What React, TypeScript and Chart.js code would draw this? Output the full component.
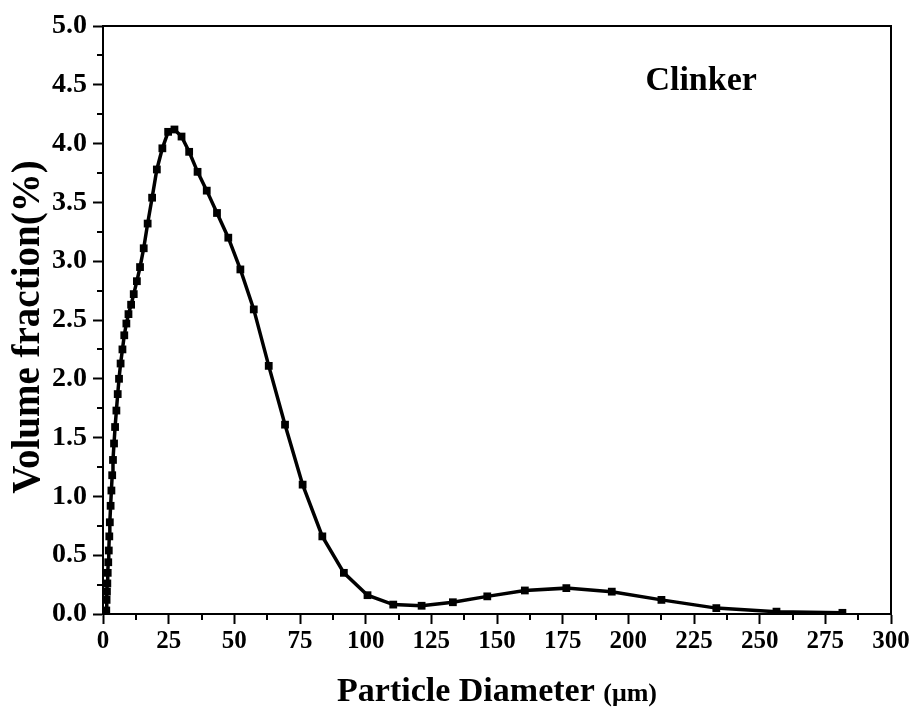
import React, { useEffect, useRef } from 'react';
import { Chart, registerables } from 'chart.js';

Chart.register(...registerables);

// Particle diameter (µm)
const diameters = [
  1.13, 1.25, 1.37, 1.5, 1.65, 1.8, 2.0, 2.2, 2.4, 2.6,
  2.9, 3.2, 3.5, 3.8, 4.2, 4.6, 5.1, 5.6, 6.1, 6.7,
  7.4, 8.1, 8.9, 9.7, 10.7, 11.7, 12.9, 14.1, 15.5, 17.0,
  18.7, 20.5, 22.6, 24.8, 27.2, 29.9, 32.8, 36.0, 39.5, 43.4,
  47.7, 52.3, 57.4, 63.1, 69.3, 76.0, 83.5, 91.7, 100.7, 110.5,
  121.3, 133.2, 146.3, 160.6, 176.4, 193.7, 212.6, 233.5, 256.4, 281.5,
];

// Volume fraction (%)
const volumeFraction = [
  0.0, 0.03, 0.12, 0.19, 0.26, 0.35, 0.44, 0.54, 0.66, 0.78,
  0.92, 1.05, 1.18, 1.31, 1.45, 1.59, 1.73, 1.87, 2.0, 2.13,
  2.25, 2.37, 2.47, 2.55, 2.63, 2.72, 2.83, 2.95, 3.11, 3.32,
  3.54, 3.78, 3.96, 4.1, 4.12, 4.06, 3.93, 3.76, 3.6, 3.41,
  3.2, 2.93, 2.59, 2.11, 1.61, 1.1, 0.66, 0.35, 0.16, 0.08,
  0.07, 0.1, 0.15, 0.2, 0.22, 0.19, 0.12, 0.05, 0.02, 0.01,
];

const seriesLabel = 'Clinker';
const xTitle = 'Particle Diameter ';
const xUnit = '(\u03bcm)';
const yTitle = 'Volume fraction(%)';

const xMin = 0;
const xMax = 300;
const xStep = 25;
const yMin = 0;
const yMax = 5;
const yStep = 0.5;

const FONT = '"Liberation Serif", "Times New Roman", serif';

const framePlugin = {
  id: 'frame',
  afterDraw(chart: any) {
    const { ctx, chartArea: a, scales } = chart;
    const xs = scales.x;
    const ys = scales.y;
    ctx.save();
    ctx.strokeStyle = '#000';
    ctx.lineWidth = 2;
    ctx.strokeRect(a.left, a.top, a.right - a.left, a.bottom - a.top);
    // minor ticks
    ctx.beginPath();
    for (let v = xMin + xStep / 2; v < xMax; v += xStep) {
      const px = Math.round(xs.getPixelForValue(v));
      ctx.moveTo(px, a.bottom);
      ctx.lineTo(px, a.bottom + 6);
    }
    for (let v = yMin + yStep / 2; v < yMax; v += yStep) {
      const py = Math.round(ys.getPixelForValue(v));
      ctx.moveTo(a.left, py);
      ctx.lineTo(a.left - 6, py);
    }
    ctx.stroke();

    ctx.fillStyle = '#000';
    // x title
    ctx.textBaseline = 'alphabetic';
    ctx.font = `bold 34px ${FONT}`;
    const w1 = ctx.measureText(xTitle).width;
    ctx.font = `bold 26px ${FONT}`;
    const w2 = ctx.measureText(xUnit).width;
    const cx = (a.left + a.right) / 2;
    const sx = cx - (w1 + w2) / 2;
    ctx.textAlign = 'left';
    ctx.font = `bold 34px ${FONT}`;
    ctx.fillText(xTitle, sx, 701);
    ctx.font = `bold 26px ${FONT}`;
    ctx.fillText(xUnit, sx + w1, 701);

    // y title
    ctx.save();
    ctx.translate(29, (a.top + a.bottom) / 2 + 7);
    ctx.rotate(-Math.PI / 2);
    ctx.textAlign = 'center';
    ctx.textBaseline = 'middle';
    ctx.font = `bold 39px ${FONT}`;
    ctx.fillText(yTitle, 0, 0);
    ctx.restore();

    // label
    ctx.textAlign = 'left';
    ctx.textBaseline = 'alphabetic';
    ctx.font = `bold 34px ${FONT}`;
    ctx.fillText(seriesLabel, xs.getPixelForValue(206.5), ys.getPixelForValue(4.46));
    ctx.restore();
  },
};

export default function App() {
  const ref = useRef<HTMLCanvasElement | null>(null);

  useEffect(() => {
    if (!ref.current) return;
    const points = diameters.map((d, i) => ({ x: d, y: volumeFraction[i] }));
    const chart = new Chart(ref.current, {
      type: 'line',
      data: {
        datasets: [
          {
            label: seriesLabel,
            data: points,
            borderColor: '#000',
            backgroundColor: '#000',
            borderWidth: 3.5,
            pointStyle: 'rect',
            pointRadius: 5.5,
            pointBorderWidth: 0,
            pointBackgroundColor: '#000',
            tension: 0,
            fill: false,
          },
        ],
      },
      options: {
        responsive: false,
        animation: false,
        devicePixelRatio: 1,
        layout: { padding: { left: 0, top: 26, right: 23, bottom: 0 } },
        plugins: {
          legend: { display: false },
          tooltip: { enabled: false },
          title: { display: false },
        },
        scales: {
          x: {
            type: 'linear',
            min: xMin,
            max: xMax,
            ticks: {
              stepSize: xStep,
              font: { family: FONT, size: 25, weight: 'bold' },
              color: '#000',
              padding: 3,
              maxRotation: 0,
              autoSkip: false,
              callback: (v: any) => String(v),
            },
            grid: {
              display: true,
              drawOnChartArea: false,
              drawTicks: true,
              tickLength: 10,
              tickWidth: 2,
              tickColor: '#000',
            },
            border: { display: true, color: '#000', width: 2 },
            afterFit: (s: any) => {
              s.height = 711 - 614;
            },
          },
          y: {
            type: 'linear',
            min: yMin,
            max: yMax,
            ticks: {
              stepSize: yStep,
              font: { family: FONT, size: 28, weight: 'bold' },
              color: '#000',
              padding: 6,
              autoSkip: false,
              callback: (v: any) => Number(v).toFixed(1),
            },
            grid: {
              display: true,
              drawOnChartArea: false,
              drawTicks: true,
              tickLength: 10,
              tickWidth: 2,
              tickColor: '#000',
            },
            border: { display: true, color: '#000', width: 2 },
            afterFit: (s: any) => {
              s.width = 103;
            },
          },
        },
      },
      plugins: [framePlugin],
    });
    return () => chart.destroy();
  }, []);

  return (
    <div style={{ position: 'absolute', left: 0, top: 0, width: 914, height: 711, background: '#fff' }}>
      <canvas ref={ref} width={914} height={711} />
    </div>
  );
}
